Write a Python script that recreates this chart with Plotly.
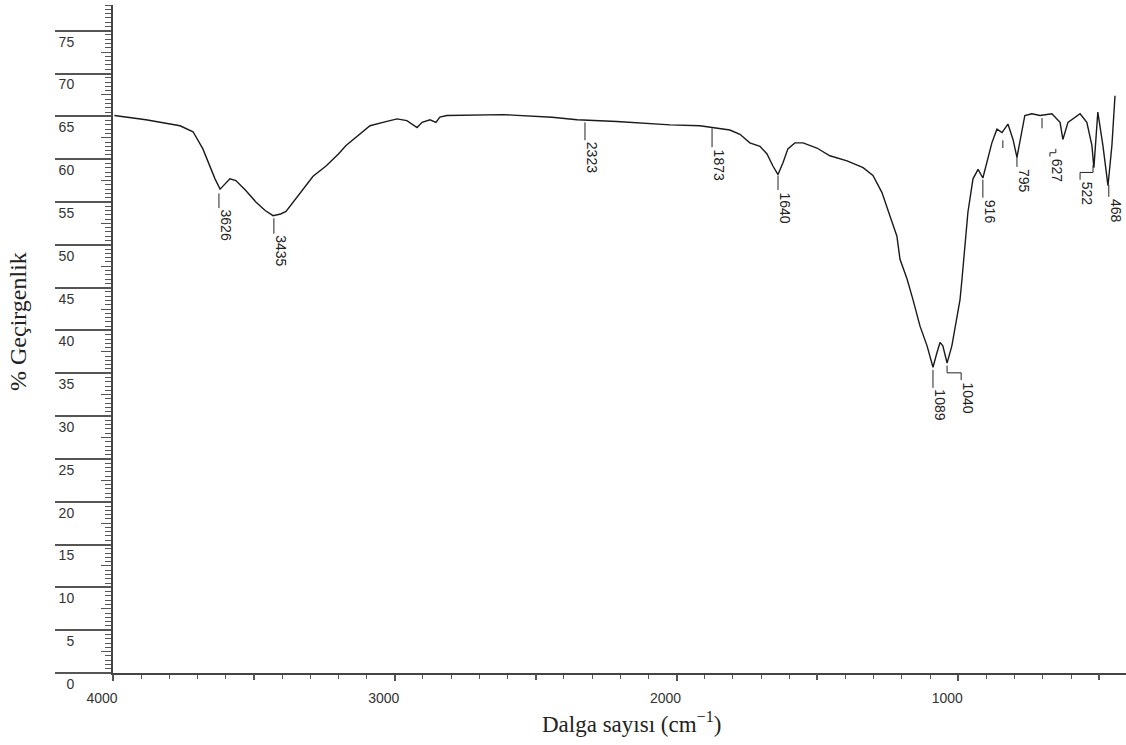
import plotly.graph_objects as go

# Wavenumber (cm-1) and transmittance (%)
wavenumber = [3995, 3883, 3762, 3716, 3681, 3656, 3638, 3620, 3585, 3564,
              3528, 3493, 3460, 3432, 3405, 3386, 3360, 3336, 3290, 3244,
              3200, 3173, 3120, 3088, 3042, 2992, 2957, 2921, 2903, 2875,
              2854, 2840, 2815, 2616, 2442, 2353, 2212, 2084, 2023, 1917,
              1871, 1811, 1775, 1740, 1704, 1679, 1658, 1640, 1622, 1605,
              1580, 1551, 1502, 1456, 1395, 1338, 1303, 1271, 1243, 1218,
              1207, 1182, 1161, 1136, 1111, 1090, 1076, 1065, 1055, 1040,
              1023, 1005, 994, 987, 976, 966, 948, 930, 913, 898,
              881, 863, 845, 824, 806, 792, 781, 764, 739, 710,
              668, 639, 629, 611, 568, 544, 526, 519, 505, 487,
              469, 455, 444]
transmittance = [65.1, 64.6, 63.9, 63.2, 61.2, 59.2, 57.7, 56.5, 57.7, 57.5,
                 56.3, 55.0, 54.0, 53.4, 53.6, 53.9, 55.0, 56.1, 58.0, 59.2,
                 60.6, 61.6, 63.0, 63.9, 64.3, 64.7, 64.5, 63.7, 64.3, 64.6,
                 64.3, 64.9, 65.1, 65.2, 64.9, 64.6, 64.4, 64.1, 64.0, 63.9,
                 63.7, 63.4, 62.9, 61.9, 61.5, 60.6, 59.2, 58.2, 59.6, 61.2,
                 61.9, 61.9, 61.3, 60.4, 59.8, 59.0, 58.1, 56.1, 53.4, 51.0,
                 48.3, 46.0, 43.6, 40.5, 38.2, 35.7, 37.4, 38.6, 38.2, 36.2,
                 38.2, 41.3, 43.6, 46.0, 49.9, 53.8, 57.7, 58.8, 57.8, 59.6,
                 61.9, 63.5, 63.1, 64.1, 62.3, 60.2, 62.3, 65.1, 65.3, 65.1,
                 65.3, 64.3, 62.3, 64.3, 65.3, 64.3, 61.6, 59.0, 65.5, 61.6,
                 56.9, 61.6, 67.4]

# Peak labels: leader start (wavenumber, %T), leader end / text anchor, text
lead_wn = [3624, 3429, 2325, 1874, 1640, 1090, 1040, 913, 842, 792, 703, 654, 522, 466]
lead_t = [56.0, 53.1, 64.3, 63.6, 58.1, 35.4, 35.9, 57.6, 62.2, 60.3, 64.8, 61.2, 59.3, 57.0]
label_wn = [3624, 3429, 2325, 1874, 1640, 1090, 990, 913, 842, 792, 703, 675, 568, 466]
label_t = [54.3, 51.3, 62.2, 61.4, 56.4, 33.3, 34.2, 55.5, 61.3, 59.1, 63.6, 60.3, 57.6, 55.6]
label_text = ["3626", "3435", "2323", "1873", "1640", "1089", "1040", "916", "", "795", "", "627", "522", "468"]

y_major = list(range(0, 80, 5))
y_mid = [v + 2.5 for v in range(0, 75, 5)]
x_major = [4000, 3000, 2000, 1000]
x_mid = [3500, 2500, 1500, 500]

fig = go.Figure()
fig.add_trace(go.Scatter(x=wavenumber, y=transmittance, mode="lines",
                         line=dict(color="#1a1a1a", width=1.4), showlegend=False,
                         hoverinfo="skip"))

# leader lines (step path from leader start to text anchor)
lx, ly = [], []
for x0, y0, x1, y1 in zip(lead_wn, lead_t, label_wn, label_t):
    mid = (y0 + y1) / 2
    lx += [x0, x0, x1, x1, None]
    ly += [y0, mid, mid, y1, None]
fig.add_trace(go.Scatter(x=lx, y=ly, mode="lines", line=dict(color="#222222", width=1),
                         showlegend=False, hoverinfo="skip"))

sans = "Liberation Sans, Arial, sans-serif"
serif = "Liberation Serif, Times New Roman, serif"
annotations = []
for w, t, s in zip(label_wn, label_t, label_text):
    if not s:
        continue
    annotations.append(dict(x=w, y=t, xref="x", yref="y", text=s,
                            textangle=90, showarrow=False, xanchor="left",
                            yanchor="top", xshift=-3,
                            font=dict(family=sans, size=14, color="#222222")))

annotations.append(dict(xref="paper", yref="paper", x=0, y=0.5, xshift=-95, yshift=17,
                        text="% Geçirgenlik", textangle=-90, showarrow=False,
                        xanchor="center", yanchor="middle",
                        font=dict(family=serif, size=24, color="#222222")))
annotations.append(dict(xref="paper", yref="paper", x=0.512, y=0, yshift=-49,
                        text="Dalga sayısı (cm<sup>−1</sup>)", showarrow=False,
                        xanchor="center", yanchor="middle",
                        font=dict(family=serif, size=23, color="#222222")))

fig.update_layout(
    width=1126, height=745,
    margin=dict(l=113, r=0, t=5, b=72),
    paper_bgcolor="white", plot_bgcolor="white",
    showlegend=False,
    annotations=annotations,
    xaxis=dict(range=[4000, 405], tickmode="array", tickvals=x_major,
               ticktext=[str(v) for v in x_major],
               ticks="outside", ticklen=6, tickwidth=1.5, tickcolor="#555555",
               showline=True, linewidth=2, linecolor="#444444",
               showgrid=False, zeroline=False,
               tickfont=dict(family=sans, size=14, color="#333333"),
               ticklabelstandoff=5, ticklabelshift=11,
               minor=dict(tickmode="linear", tick0=0, dtick=100, ticks="outside",
                          ticklen=3.5, tickwidth=1, tickcolor="#555555", showgrid=False)),
    xaxis2=dict(range=[4000, 405], overlaying="x", anchor="y", side="bottom",
                tickmode="array", tickvals=x_mid, showticklabels=False,
                ticks="outside", ticklen=6, tickwidth=1.5, tickcolor="#555555",
                showline=False, showgrid=False, zeroline=False),
    yaxis=dict(range=[0, 78], tickmode="array", tickvals=y_major,
               ticktext=[str(v) for v in y_major],
               ticks="outside", ticklen=56, tickwidth=2, tickcolor="#555555",
               showline=True, linewidth=2, linecolor="#444444",
               showgrid=False, zeroline=False,
               tickfont=dict(family=sans, size=14, color="#333333"),
               ticklabelstandoff=-22, ticklabelshift=11,
               minor=dict(tickmode="linear", tick0=0, dtick=0.5, ticks="outside",
                          ticklen=6, tickwidth=1, tickcolor="#555555", showgrid=False)),
    yaxis2=dict(range=[0, 78], overlaying="y", anchor="x", side="left",
                tickmode="array", tickvals=y_mid, showticklabels=False,
                ticks="outside", ticklen=11, tickwidth=1, tickcolor="#555555",
                showline=False, showgrid=False, zeroline=False),
)
# invisible trace so the extra tick axes are drawn
fig.add_trace(go.Scatter(x=[wavenumber[0]], y=[transmittance[0]], xaxis="x2", yaxis="y2",
                         mode="markers", marker=dict(opacity=0), showlegend=False,
                         hoverinfo="skip"))

fig.write_html("out.html")
